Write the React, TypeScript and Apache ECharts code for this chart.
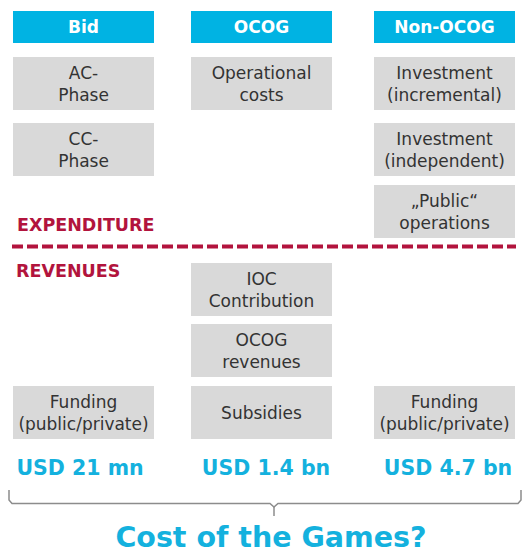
import { useEffect, useRef } from "react";
import * as echarts from "echarts";

// ---- content ----
const columns = ["Bid", "OCOG", "Non-OCOG"];
const expenditureItems: string[][] = [
  ["AC-\nPhase", "CC-\nPhase"],
  ["Operational\ncosts"],
  ["Investment\n(incremental)", "Investment\n(independent)", "\u201EPublic\u201C\noperations"],
];
const revenueItems: (string | null)[][] = [
  [null, null, "Funding\n(public/private)"],
  ["IOC\nContribution", "OCOG\nrevenues", "Subsidies"],
  [null, null, "Funding\n(public/private)"],
];
const totals = ["USD 21 mn", "USD 1.4 bn", "USD 4.7 bn"];
const sectionLabels = ["EXPENDITURE", "REVENUES"];
const question = "Cost of the Games?";

// ---- layout / style ----
const FONT = "'DejaVu Sans'";
const CYAN = "#00b3e3";
const CYAN_TEXT = "#14b1de";
const GRAY = "#d9d9d9";
const RED = "#b2143d";
const DARK = "#333333";
const colX = [13, 191, 374];
const colW = 141;
const headerY = 11;
const headerH = 32;
const expRowY = [57, 123, 185];
const revRowY = [263, 324, 386];
const boxH = 53;
const totalCx = [80, 266, 448];

function box(x: number, y: number, w: number, h: number, label: string) {
  return [
    { type: "rect", shape: { x, y, width: w, height: h }, style: { fill: GRAY } },
    {
      type: "text",
      x: x + w / 2,
      y: y + h / 2,
      style: {
        text: label,
        fill: DARK,
        fontSize: 17,
        fontFamily: FONT,
        lineHeight: 22,
        align: "center",
        verticalAlign: "middle",
      },
    },
  ];
}

export default function App() {
  const ref = useRef<HTMLDivElement>(null);
  useEffect(() => {
    if (!ref.current) return;
    const chart = echarts.init(ref.current, undefined, { renderer: "svg" });
    const els: any[] = [];
    columns.forEach((c, i) => {
      els.push({ type: "rect", shape: { x: colX[i], y: headerY, width: colW, height: headerH }, style: { fill: CYAN } });
      els.push({
        type: "text",
        x: colX[i] + colW / 2,
        y: headerY + headerH / 2,
        style: { text: c, fill: "#ffffff", fontSize: 17, fontWeight: "bold", fontFamily: FONT, align: "center", verticalAlign: "middle" },
      });
    });
    expenditureItems.forEach((items, i) => {
      items.forEach((label, r) => {
        els.push(...box(colX[i], expRowY[r], colW, boxH, label));
      });
    });
    revenueItems.forEach((items, i) => {
      items.forEach((label, r) => {
        if (label) els.push(...box(colX[i], revRowY[r], colW, boxH, label));
      });
    });
    els.push({
      type: "text",
      x: 17,
      y: 225,
      style: { text: sectionLabels[0], fill: RED, fontSize: 17.5, fontWeight: "bold", fontFamily: FONT, align: "left", verticalAlign: "middle" },
    });
    els.push({
      type: "line",
      shape: { x1: 12, y1: 246.5, x2: 516, y2: 246.5 },
      style: { stroke: RED, lineWidth: 4, lineDash: [11, 4] },
    });
    els.push({
      type: "text",
      x: 16,
      y: 271,
      style: { text: sectionLabels[1], fill: RED, fontSize: 17.5, fontWeight: "bold", fontFamily: FONT, align: "left", verticalAlign: "middle" },
    });
    totals.forEach((t, i) => {
      els.push({
        type: "text",
        x: totalCx[i],
        y: 468,
        style: { text: t, fill: CYAN_TEXT, fontSize: 20.5, fontWeight: "bold", fontFamily: FONT, align: "center", verticalAlign: "middle" },
      });
    });
    els.push({
      type: "polyline",
      shape: {
        points: [
          [9, 490], [9, 500], [12, 503.5], [270, 503.5], [274, 507], [278, 503.5], [518, 503.5], [521, 500], [521, 490],
        ],
      },
      style: { stroke: "#8c8c8c", lineWidth: 1.5, fill: null },
    });
    els.push({
      type: "line",
      shape: { x1: 274, y1: 506, x2: 274, y2: 516 },
      style: { stroke: "#8c8c8c", lineWidth: 1.5 },
    });
    els.push({
      type: "text",
      x: 271,
      y: 537,
      style: { text: question, fill: CYAN_TEXT, fontSize: 28.5, fontWeight: "bold", fontFamily: FONT, align: "center", verticalAlign: "middle" },
    });
    chart.setOption({ animation: false, graphic: { elements: els } });
    return () => chart.dispose();
  }, []);
  return <div ref={ref} style={{ position: "absolute", left: 0, top: 0, width: 527, height: 553, background: "#fff" }} />;
}
